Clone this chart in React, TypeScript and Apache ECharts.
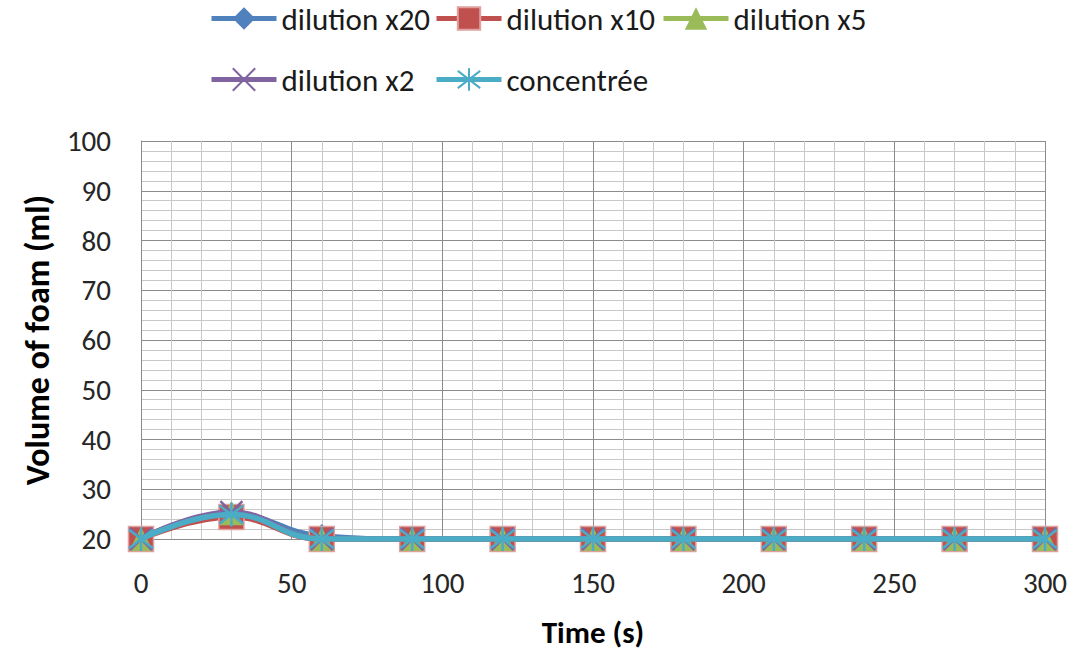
import React, { useEffect, useRef } from "react";
import * as echarts from "echarts";

const times = [0, 30, 60, 90, 120, 150, 180, 210, 240, 270, 300];
const dilution20 = [20, 25, 20.6, 20, 20, 20, 20, 20, 20, 20, 20];
const dilution10 = [20, 24.4, 20, 20, 20, 20, 20, 20, 20, 20, 20];
const dilution5 = [20, 25.2, 20, 20, 20, 20, 20, 20, 20, 20, 20];
const dilution2 = [20, 25.4, 20, 20, 20, 20, 20, 20, 20, 20, 20];
const concentree = [20, 24.9, 20, 20, 20, 20, 20, 20, 20, 20, 20];

const seriesNames = ["dilution x20", "dilution x10", "dilution x5", "dilution x2", "concentrée"];
const seriesValues = [dilution20, dilution10, dilution5, dilution2, concentree];
const colors = ["#4F81BD", "#C0504D", "#9BBB59", "#8064A2", "#4BACC6"];

const FONT = "Carlito, 'Liberation Sans', Arial, sans-serif";

const X_MARK = "path://M0,0L10,10M10,0L0,10";
const STAR_MARK = "path://M0,0L10,10M10,0L0,10M5,-1.5L5,11.5";

export default function App() {
  const ref = useRef<HTMLDivElement>(null);
  useEffect(() => {
    if (!ref.current) return;
    const chart = echarts.init(ref.current, undefined, { renderer: "svg" });
    const symbols = ["diamond", "rect", "triangle", X_MARK, STAR_MARK];
    const sizes = [24, 25, 24, 22, 24];
    const series = seriesNames.map((name, i) => {
      const stroke = i >= 3;
      return {
        name,
        type: "line",
        smooth: 0.45,
        data: times.map((t, k) => [t, seriesValues[i][k]]),
        symbol: symbols[i],
        symbolSize: sizes[i],
        showAllSymbol: true,
        lineStyle: { color: colors[i], width: 5.5 },
        itemStyle: stroke
          ? { color: colors[i], borderColor: colors[i], borderWidth: 2.5 }
          : i === 1
          ? { color: colors[i], borderColor: "#E0A09E", borderWidth: 1.5 }
          : { color: colors[i], borderWidth: 0 },
        z: 2 + i,
        emphasis: { disabled: true },
      };
    });
    const legendCommon = {
      orient: "vertical",
      top: 3,
      padding: 0,
      itemWidth: 65,
      itemHeight: 28,
      itemGap: 30,
      lineStyle: { width: 5 },
      textStyle: { fontFamily: FONT, fontSize: 31, color: "#1a1a1a", padding: [0, 0, 0, 0] },
      selectedMode: false,
    };
    chart.setOption({
      animation: false,
      backgroundColor: "#ffffff",
      legend: [
        { ...legendCommon, left: 209, data: ["dilution x20", "dilution x2"] },
        { ...legendCommon, left: 434, data: ["dilution x10", "concentrée"] },
        { ...legendCommon, left: 661, data: ["dilution x5"] },
      ],
      grid: { left: 141, right: 42, top: 141, bottom: 113, containLabel: false },
      xAxis: {
        type: "value",
        min: 0,
        max: 300,
        interval: 50,
        name: "Time (s)",
        nameLocation: "middle",
        nameGap: 77,
        nameTextStyle: { fontFamily: FONT, fontSize: 31, fontWeight: "bold", color: "#000" },
        axisLine: { show: true, lineStyle: { color: "#8c8c8c", width: 1 } },
        axisTick: { show: false },
        axisLabel: { fontFamily: FONT, fontSize: 29, color: "#262626", margin: 29 },
        splitLine: { show: true, lineStyle: { color: "#8c8c8c", width: 1 } },
        minorTick: { show: false, splitNumber: 5 },
        minorSplitLine: { show: true, lineStyle: { color: "#c8c8c8", width: 1 } },
      },
      yAxis: {
        type: "value",
        min: 20,
        max: 100,
        interval: 10,
        name: "Volume of foam (ml)",
        nameLocation: "middle",
        nameGap: 87,
        nameRotate: 90,
        nameTextStyle: { fontFamily: FONT, fontSize: 34, fontWeight: "bold", color: "#000" },
        axisLine: { show: true, lineStyle: { color: "#8c8c8c", width: 1 } },
        axisTick: { show: false },
        axisLabel: { fontFamily: FONT, fontSize: 29, color: "#262626", margin: 30 },
        splitLine: { show: true, lineStyle: { color: "#8c8c8c", width: 1 } },
        minorTick: { show: false, splitNumber: 5 },
        minorSplitLine: { show: true, lineStyle: { color: "#c8c8c8", width: 1 } },
      },
      series,
    });
    return () => chart.dispose();
  }, []);
  return <div ref={ref} style={{ width: 1087, height: 652, position: "absolute", left: 0, top: 0 }} />;
}
